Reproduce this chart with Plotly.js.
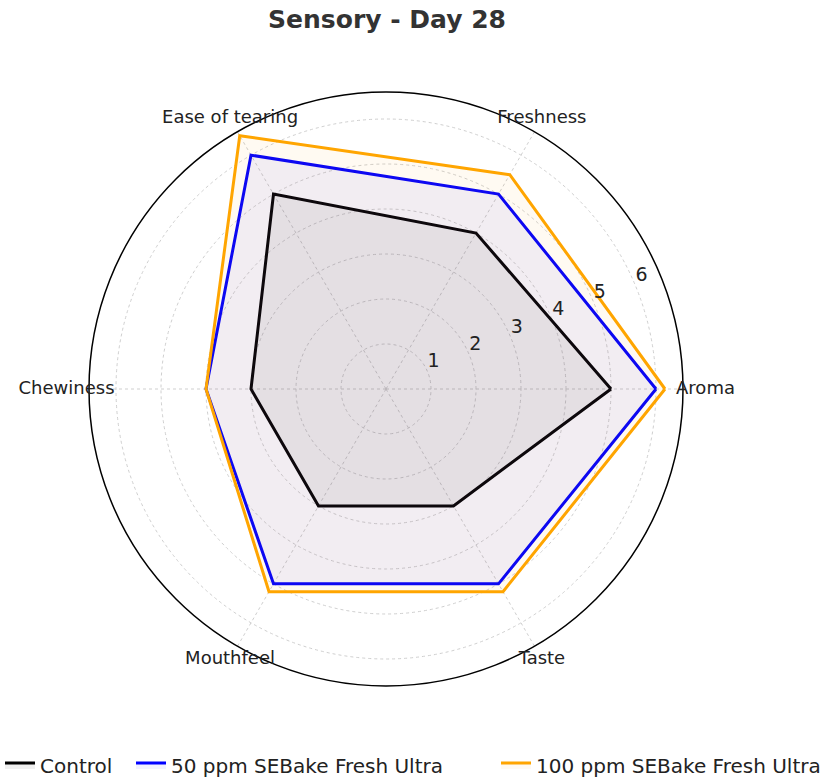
<!DOCTYPE html>
<html>
<head>
<meta charset="utf-8">
<script src="https://cdn.plot.ly/plotly-3.0.1.min.js"></script>
<style>html,body{margin:0;padding:0;background:#fff;}#chart{width:837px;height:779px;}</style>
</head>
<body>
<div id="chart"></div>
<script>
const categories = ["Aroma", "Freshness", "Ease of tearing", "Chewiness", "Mouthfeel", "Taste"];
const controlValues = [5.0, 4.0, 5.0, 3.0, 3.0, 3.0];
const ppm50Values = [6.0, 5.0, 6.0, 4.0, 5.0, 5.0];
const ppm100Values = [6.2, 5.5, 6.5, 4.0, 5.2, 5.2];
const seriesNames = ["Control", "50 ppm SEBake Fresh Ultra", "100 ppm SEBake Fresh Ultra"];
const radialTicks = [1, 2, 3, 4, 5, 6];

const rMax = 6.6;       // outer circle of the radar
const labelRMax = 7.4;  // range of the overlay used for category labels
const labelRadii = [7.1, 6.93, 6.93, 7.1, 6.93, 6.93];
const tickLabelAngle = 22.5;

// geometry (pixels) – same pixel scale for all polar subplots
const W = 837, H = 779, cx = 386, cy = 389, R = 297;
const R2 = R * labelRMax / rMax;

function closed(a) { return a.concat([a[0]]); }

const specs = [
  {vals: controlValues, color: "#000000", fill: "rgba(0,0,0,0.06)", legend: "legend"},
  {vals: ppm50Values, color: "#0000ff", fill: "rgba(0,0,255,0.05)", legend: "legend2"},
  {vals: ppm100Values, color: "#ffa500", fill: "rgba(255,165,0,0.05)", legend: "legend3"}
];

const traces = [];

// radial tick labels (upright, offset up-right of each grid circle like the reference)
traces.push({
  type: "scatterpolar",
  subplot: "polar3",
  r: radialTicks,
  theta: radialTicks.map(() => tickLabelAngle),
  mode: "text",
  text: radialTicks.map(String),
  textposition: "top right",
  textfont: {family: "DejaVu Sans", size: 19, color: "#222"},
  cliponaxis: false,
  showlegend: false,
  hoverinfo: "skip"
});

specs.forEach((s, i) => traces.push({
  type: "scatterpolar",
  subplot: "polar",
  legend: s.legend,
  r: closed(s.vals),
  theta: closed(categories),
  mode: "lines",
  name: seriesNames[i],
  line: {color: s.color, width: 3},
  fill: "toself",
  fillcolor: s.fill,
  hoverinfo: "skip"
}));

traces.push({
  type: "scatterpolar",
  subplot: "polar2",
  r: labelRadii,
  theta: categories,
  mode: "text",
  text: categories,
  textposition: "middle center",
  textfont: {family: "DejaVu Sans", size: 18, color: "#222"},
  cliponaxis: false,
  showlegend: false,
  hoverinfo: "skip"
});

function legendAt(px) {
  return {
    orientation: "h",
    x: px / W,
    xanchor: "left",
    y: (H - 765) / H,
    yanchor: "middle",
    font: {family: "DejaVu Sans", size: 20, color: "#222"},
    bgcolor: "rgba(0,0,0,0)",
    borderwidth: 0
  };
}

const mainDomain = {x: [(cx - R) / W, (cx + R) / W], y: [(H - cy - R) / H, (H - cy + R) / H]};

const layout = {
  width: W,
  height: H,
  margin: {l: 0, r: 0, t: 0, b: 0, autoexpand: false},
  paper_bgcolor: "#ffffff",
  font: {family: "DejaVu Sans", color: "#222"},
  title: {
    text: "<b>Sensory - Day 28</b>",
    x: 387 / W,
    xanchor: "center",
    y: 1 - 19 / H,
    yanchor: "middle",
    font: {family: "DejaVu Sans", size: 25, color: "#333"}
  },
  showlegend: true,
  legend: legendAt(0),
  legend2: legendAt(131),
  legend3: legendAt(496),
  polar: {
    domain: mainDomain,
    bgcolor: "#ffffff",
    radialaxis: {
      range: [0, rMax],
      tickvals: radialTicks,
      angle: tickLabelAngle,
      showticklabels: false,
      showline: false,
      ticks: "",
      gridcolor: "#cfcfcf",
      griddash: "dot",
      gridwidth: 1
    },
    angularaxis: {
      type: "category",
      categoryarray: categories,
      rotation: 0,
      direction: "counterclockwise",
      showline: true,
      linecolor: "#000000",
      linewidth: 1.5,
      ticks: "",
      showticklabels: false,
      gridcolor: "#cfcfcf",
      griddash: "dot",
      gridwidth: 1
    }
  },
  polar2: {
    domain: {x: [(cx - R2) / W, (cx + R2) / W], y: [(H - cy - R2) / H, (H - cy + R2) / H]},
    bgcolor: "rgba(0,0,0,0)",
    radialaxis: {range: [0, labelRMax], visible: false, showgrid: false},
    angularaxis: {
      type: "category",
      categoryarray: categories,
      rotation: 0,
      direction: "counterclockwise",
      showline: false,
      showgrid: false,
      showticklabels: false,
      ticks: ""
    }
  },
  polar3: {
    domain: mainDomain,
    bgcolor: "rgba(0,0,0,0)",
    radialaxis: {range: [0, rMax], visible: false, showgrid: false},
    angularaxis: {
      type: "linear",
      thetaunit: "degrees",
      rotation: 0,
      direction: "counterclockwise",
      showline: false,
      showgrid: false,
      showticklabels: false,
      ticks: ""
    }
  }
};

Plotly.newPlot("chart", traces, layout, {displayModeBar: false, staticPlot: true});
</script>
</body>
</html>
